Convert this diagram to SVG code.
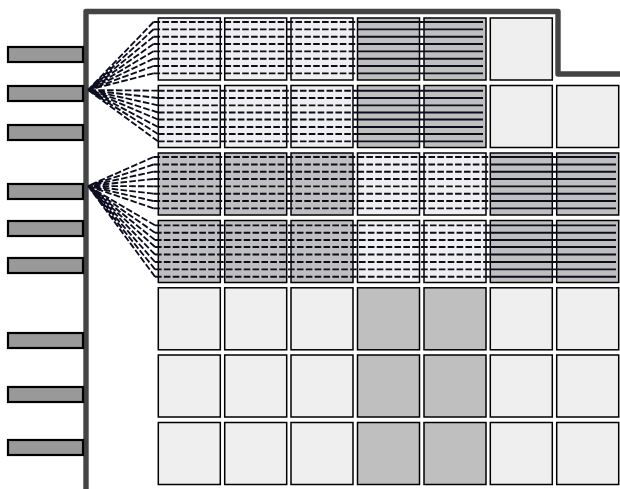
<svg xmlns="http://www.w3.org/2000/svg" width="620" height="489" viewBox="0 0 620 489">
<style>
.l{fill:#efefef;stroke:#000;stroke-width:1.5}
.d{fill:#bfbfbf;stroke:#000;stroke-width:1.5}
.b{fill:#999;stroke:#000;stroke-width:2.2}
.f{fill:none;stroke:#444;stroke-width:5.4;stroke-linejoin:round}
.da{fill:none;stroke:#0d0d20;stroke-width:1.85;stroke-dasharray:6.6 2.27}
.so{fill:none;stroke:#0d0d20;stroke-width:1.85}
</style>
<rect width="620" height="489" fill="#fff"/>
<g id="frame"><path class="f" d="M86 489V11.5H558V74H620"/></g>
<g id="pins">
<rect id="pin1" class="b" x="8" y="47" width="75" height="15"/>
<rect id="pin2" class="b" x="8" y="86" width="75" height="15"/>
<rect id="pin3" class="b" x="8" y="125" width="75" height="15"/>
<rect id="pin4" class="b" x="8" y="184" width="75" height="15"/>
<rect id="pin5" class="b" x="8" y="221" width="75" height="15"/>
<rect id="pin6" class="b" x="8" y="258" width="75" height="15"/>
<rect id="pin7" class="b" x="8" y="333" width="75" height="15"/>
<rect id="pin8" class="b" x="8" y="387" width="75" height="15"/>
<rect id="pin9" class="b" x="8" y="440" width="75" height="15"/>
</g>
<g id="cells">
<rect id="c11" class="l" x="158.3" y="18" width="62" height="62"/><rect id="c12" class="l" x="224.7" y="18" width="62" height="62"/><rect id="c13" class="l" x="291" y="18" width="62" height="62"/><rect id="c14" class="d" x="357.5" y="18" width="62" height="62"/><rect id="c15" class="d" x="424" y="18" width="62" height="62"/><rect id="c16" class="l" x="490.3" y="18" width="62" height="62"/>
<rect id="c21" class="l" x="158.3" y="85.5" width="62" height="62"/><rect id="c22" class="l" x="224.7" y="85.5" width="62" height="62"/><rect id="c23" class="l" x="291" y="85.5" width="62" height="62"/><rect id="c24" class="d" x="357.5" y="85.5" width="62" height="62"/><rect id="c25" class="d" x="424" y="85.5" width="62" height="62"/><rect id="c26" class="l" x="490.3" y="85.5" width="62" height="62"/><rect id="c27" class="l" x="556.7" y="85.5" width="62" height="62"/>
<rect id="c31" class="d" x="158.3" y="153" width="62" height="62"/><rect id="c32" class="d" x="224.7" y="153" width="62" height="62"/><rect id="c33" class="d" x="291" y="153" width="62" height="62"/><rect id="c34" class="l" x="357.5" y="153" width="62" height="62"/><rect id="c35" class="l" x="424" y="153" width="62" height="62"/><rect id="c36" class="d" x="490.3" y="153" width="62" height="62"/><rect id="c37" class="d" x="556.7" y="153" width="62" height="62"/>
<rect id="c41" class="d" x="158.3" y="220.5" width="62" height="62"/><rect id="c42" class="d" x="224.7" y="220.5" width="62" height="62"/><rect id="c43" class="d" x="291" y="220.5" width="62" height="62"/><rect id="c44" class="l" x="357.5" y="220.5" width="62" height="62"/><rect id="c45" class="l" x="424" y="220.5" width="62" height="62"/><rect id="c46" class="d" x="490.3" y="220.5" width="62" height="62"/><rect id="c47" class="d" x="556.7" y="220.5" width="62" height="62"/>
<rect id="c51" class="l" x="158.3" y="287.8" width="62" height="62"/><rect id="c52" class="l" x="224.7" y="287.8" width="62" height="62"/><rect id="c53" class="l" x="291" y="287.8" width="62" height="62"/><rect id="c54" class="d" x="357.5" y="287.8" width="62" height="62"/><rect id="c55" class="d" x="424" y="287.8" width="62" height="62"/><rect id="c56" class="l" x="490.3" y="287.8" width="62" height="62"/><rect id="c57" class="l" x="556.7" y="287.8" width="62" height="62"/>
<rect id="c61" class="l" x="158.3" y="355" width="62" height="62"/><rect id="c62" class="l" x="224.7" y="355" width="62" height="62"/><rect id="c63" class="l" x="291" y="355" width="62" height="62"/><rect id="c64" class="d" x="357.5" y="355" width="62" height="62"/><rect id="c65" class="d" x="424" y="355" width="62" height="62"/><rect id="c66" class="l" x="490.3" y="355" width="62" height="62"/><rect id="c67" class="l" x="556.7" y="355" width="62" height="62"/>
<rect id="c71" class="l" x="158.3" y="422.5" width="62" height="62"/><rect id="c72" class="l" x="224.7" y="422.5" width="62" height="62"/><rect id="c73" class="l" x="291" y="422.5" width="62" height="62"/><rect id="c74" class="d" x="357.5" y="422.5" width="62" height="62"/><rect id="c75" class="d" x="424" y="422.5" width="62" height="62"/><rect id="c76" class="l" x="490.3" y="422.5" width="62" height="62"/><rect id="c77" class="l" x="556.7" y="422.5" width="62" height="62"/>
</g>
<g id="connectors">
<path class="da" d="M153.5 22L88 90M153.5 29.3L88 90M153.5 36.7L88 90M153.5 44L88 90M153.5 51.3L88 90M153.5 58.7L88 90M153.5 66L88 90M153.5 73.3L88 90"/>
<path class="da" d="M153.5 22H357M153.5 29.3H357M153.5 36.7H357M153.5 44H357M153.5 51.3H357M153.5 58.7H357M153.5 66H357M153.5 73.3H357"/>
<path class="so" d="M357 22H483M357 29.3H483M357 36.7H483M357 44H483M357 51.3H483M357 58.7H483M357 66H483M357 73.3H483"/>
<path class="da" d="M158 90.7L88 90M158 98L88 90M158 105.3L88 90M158 112.5L88 90M158 119.5L88 90M158 127L88 90M158 134L88 90M158 141.3L88 90"/>
<path class="da" d="M158 90.7H357M158 98H357M158 105.3H357M158 112.5H357M158 119.5H357M158 127H357M158 134H357M158 141.3H357"/>
<path class="so" d="M357 90.7H483M357 98H483M357 105.3H483M357 112.5H483M357 119.5H483M357 127H483M357 134H483M357 141.3H483"/>
<path class="da" d="M153.5 157L88 186M153.5 164.5L88 186M153.5 171.7L88 186M153.5 179L88 186M153.5 186.3L88 186M153.5 193.7L88 186M153.5 201L88 186M153.5 208.3L88 186"/>
<path class="da" d="M153.5 157H490M153.5 164.5H490M153.5 171.7H490M153.5 179H490M153.5 186.3H490M153.5 193.7H490M153.5 201H490M153.5 208.3H490"/>
<path class="so" d="M490 157H616M490 164.5H616M490 171.7H616M490 179H616M490 186.3H616M490 193.7H616M490 201H616M490 208.3H616"/>
<path class="da" d="M155 225.3L88 186M155 232.7L88 186M155 240L88 186M155 247L88 186M155 254.5L88 186M155 262L88 186M155 269.3L88 186M155 276.7L88 186"/>
<path class="da" d="M155 225.3H490M155 232.7H490M155 240H490M155 247H490M155 254.5H490M155 262H490M155 269.3H490M155 276.7H490"/>
<path class="so" d="M490 225.3H616M490 232.7H616M490 240H616M490 247H616M490 254.5H616M490 262H616M490 269.3H616M490 276.7H616"/>
</g>
</svg>
